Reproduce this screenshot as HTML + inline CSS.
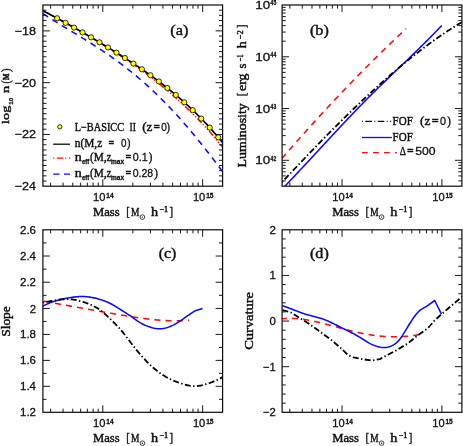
<!DOCTYPE html>
<html><head><meta charset="utf-8"><title>fig</title>
<style>html,body{margin:0;padding:0;background:#fff;}svg{display:block;will-change:transform;}text{white-space:pre;}</style>
</head><body>
<svg width="463" height="446" viewBox="0 0 463 446">
<rect width="463" height="446" fill="#fff"/>
<defs>
<clipPath id="cla"><rect x="42.9" y="5.0" width="179.7" height="181.2"/></clipPath>
<clipPath id="clb"><rect x="282.1" y="5.0" width="179.79999999999995" height="181.2"/></clipPath>
<clipPath id="clc"><rect x="42.9" y="229.8" width="179.7" height="182.5"/></clipPath>
<clipPath id="cld"><rect x="282.1" y="229.8" width="179.79999999999995" height="182.5"/></clipPath>
</defs>
<g clip-path="url(#cla)">
<path d="M42.90 13.59L43.80 14.18L44.71 14.77L45.61 15.36L46.51 15.94L47.42 16.52L48.32 17.10L49.22 17.68L50.12 18.25L51.03 18.82L51.93 19.39L52.83 19.95L53.74 20.52L54.64 21.08L55.54 21.64L56.45 22.19L57.35 22.75L58.25 23.30L59.15 23.86L60.06 24.41L60.96 24.96L61.86 25.51L62.77 26.06L63.67 26.61L64.57 27.15L65.48 27.70L66.38 28.25L67.28 28.79L68.18 29.34L69.09 29.88L69.99 30.43L70.89 30.97L71.80 31.52L72.70 32.06L73.60 32.61L74.51 33.15L75.41 33.70L76.31 34.25L77.21 34.80L78.12 35.34L79.02 35.89L79.92 36.44L80.83 37.00L81.73 37.55L82.63 38.10L83.54 38.66L84.44 39.21L85.34 39.77L86.24 40.33L87.15 40.89L88.05 41.46L88.95 42.02L89.86 42.59L90.76 43.16L91.66 43.73L92.57 44.30L93.47 44.88L94.37 45.46L95.27 46.04L96.18 46.62L97.08 47.20L97.98 47.79L98.89 48.38L99.79 48.98L100.69 49.57L101.60 50.17L102.50 50.77L103.40 51.38L104.31 51.99L105.21 52.60L106.11 53.21L107.01 53.83L107.92 54.45L108.82 55.08L109.72 55.71L110.63 56.34L111.53 56.97L112.43 57.61L113.34 58.26L114.24 58.90L115.14 59.55L116.04 60.21L116.95 60.87L117.85 61.53L118.75 62.19L119.66 62.86L120.56 63.54L121.46 64.22L122.37 64.90L123.27 65.59L124.17 66.28L125.07 66.98L125.98 67.68L126.88 68.38L127.78 69.09L128.69 69.80L129.59 70.52L130.49 71.25L131.40 71.97L132.30 72.71L133.20 73.44L134.10 74.18L135.01 74.93L135.91 75.68L136.81 76.44L137.72 77.20L138.62 77.97L139.52 78.74L140.43 79.51L141.33 80.30L142.23 81.08L143.13 81.87L144.04 82.67L144.94 83.47L145.84 84.28L146.75 85.09L147.65 85.91L148.55 86.73L149.46 87.55L150.36 88.39L151.26 89.23L152.16 90.07L153.07 90.92L153.97 91.77L154.87 92.63L155.78 93.49L156.68 94.36L157.58 95.24L158.49 96.12L159.39 97.00L160.29 97.89L161.19 98.79L162.10 99.69L163.00 100.60L163.90 101.51L164.81 102.43L165.71 103.35L166.61 104.28L167.52 105.21L168.42 106.15L169.32 107.10L170.23 108.04L171.13 109.00L172.03 109.96L172.93 110.93L173.84 111.90L174.74 112.87L175.64 113.85L176.55 114.84L177.45 115.83L178.35 116.83L179.26 117.83L180.16 118.84L181.06 119.86L181.96 120.87L182.87 121.90L183.77 122.93L184.67 123.96L185.58 125.00L186.48 126.04L187.38 127.09L188.29 128.15L189.19 129.21L190.09 130.27L190.99 131.34L191.90 132.42L192.80 133.49L193.70 134.58L194.61 135.67L195.51 136.76L196.41 137.86L197.32 138.96L198.22 140.07L199.12 141.19L200.02 142.30L200.93 143.43L201.83 144.55L202.73 145.68L203.64 146.82L204.54 147.96L205.44 149.11L206.35 150.25L207.25 151.41L208.15 152.57L209.05 153.73L209.96 154.90L210.86 156.07L211.76 157.24L212.67 158.42L213.57 159.60L214.47 160.79L215.38 161.98L216.28 163.17L217.18 164.37L218.08 165.57L218.99 166.78L219.89 167.99L220.79 169.20L221.70 170.42L222.60 171.64" fill="none" stroke="#0a0aff" stroke-width="1.55" stroke-dasharray="6.1 5.1"/>
<path d="M42.90 10.73L43.80 11.20L44.71 11.67L45.61 12.14L46.51 12.61L47.42 13.08L48.32 13.56L49.22 14.03L50.12 14.51L51.03 14.99L51.93 15.47L52.83 15.95L53.74 16.43L54.64 16.92L55.54 17.40L56.45 17.89L57.35 18.37L58.25 18.86L59.15 19.35L60.06 19.84L60.96 20.34L61.86 20.83L62.77 21.32L63.67 21.82L64.57 22.31L65.48 22.81L66.38 23.31L67.28 23.81L68.18 24.31L69.09 24.81L69.99 25.32L70.89 25.83L71.80 26.34L72.70 26.86L73.60 27.37L74.51 27.89L75.41 28.41L76.31 28.93L77.21 29.45L78.12 29.97L79.02 30.49L79.92 31.01L80.83 31.54L81.73 32.06L82.63 32.59L83.54 33.12L84.44 33.64L85.34 34.17L86.24 34.70L87.15 35.24L88.05 35.77L88.95 36.30L89.86 36.84L90.76 37.37L91.66 37.91L92.57 38.44L93.47 38.98L94.37 39.52L95.27 40.06L96.18 40.61L97.08 41.15L97.98 41.69L98.89 42.24L99.79 42.79L100.69 43.33L101.60 43.88L102.50 44.43L103.40 44.98L104.31 45.54L105.21 46.09L106.11 46.65L107.01 47.20L107.92 47.76L108.82 48.32L109.72 48.88L110.63 49.44L111.53 50.01L112.43 50.57L113.34 51.14L114.24 51.70L115.14 52.27L116.04 52.84L116.95 53.42L117.85 53.99L118.75 54.57L119.66 55.14L120.56 55.74L121.46 56.34L122.37 56.94L123.27 57.55L124.17 58.16L125.07 58.76L125.98 59.38L126.88 59.99L127.78 60.60L128.69 61.22L129.59 61.84L130.49 62.46L131.40 63.08L132.30 63.71L133.20 64.34L134.10 64.97L135.01 65.60L135.91 66.23L136.81 66.87L137.72 67.51L138.62 68.15L139.52 68.79L140.43 69.44L141.33 70.09L142.23 70.74L143.13 71.39L144.04 72.05L144.94 72.71L145.84 73.37L146.75 74.04L147.65 74.71L148.55 75.38L149.46 76.05L150.36 76.74L151.26 77.44L152.16 78.14L153.07 78.85L153.97 79.56L154.87 80.28L155.78 80.99L156.68 81.71L157.58 82.44L158.49 83.17L159.39 83.90L160.29 84.63L161.19 85.37L162.10 86.12L163.00 86.86L163.90 87.61L164.81 88.37L165.71 89.13L166.61 89.89L167.52 90.66L168.42 91.43L169.32 92.20L170.23 92.98L171.13 93.77L172.03 94.56L172.93 95.35L173.84 96.15L174.74 96.95L175.64 97.76L176.55 98.57L177.45 99.39L178.35 100.21L179.26 101.04L180.16 101.87L181.06 102.69L181.96 103.51L182.87 104.34L183.77 105.17L184.67 106.01L185.58 106.86L186.48 107.71L187.38 108.56L188.29 109.43L189.19 110.30L190.09 111.17L190.99 112.05L191.90 112.94L192.80 113.83L193.70 114.73L194.61 115.64L195.51 116.55L196.41 117.47L197.32 118.39L198.22 119.32L199.12 120.26L200.02 121.21L200.93 122.15L201.83 123.11L202.73 124.07L203.64 125.03L204.54 126.01L205.44 126.99L206.35 127.98L207.25 128.98L208.15 129.98L209.05 130.99L209.96 132.02L210.86 133.04L211.76 134.08L212.67 135.13L213.57 136.18L214.47 137.24L215.38 138.31L216.28 139.39L217.18 140.48L218.08 141.58L218.99 142.68L219.89 143.80L220.79 144.92L221.70 146.05L222.60 147.19" fill="none" stroke="#ff0a0a" stroke-width="1.55" stroke-dasharray="6 1.9 1.2 1.9 1.2 1.9 1.2 1.9"/>
<path d="M42.90 10.73L43.80 11.20L44.71 11.67L45.61 12.14L46.51 12.61L47.42 13.08L48.32 13.56L49.22 14.03L50.12 14.51L51.03 14.99L51.93 15.47L52.83 15.95L53.74 16.43L54.64 16.92L55.54 17.40L56.45 17.89L57.35 18.37L58.25 18.86L59.15 19.35L60.06 19.84L60.96 20.34L61.86 20.83L62.77 21.32L63.67 21.82L64.57 22.31L65.48 22.81L66.38 23.31L67.28 23.81L68.18 24.31L69.09 24.81L69.99 25.32L70.89 25.82L71.80 26.32L72.70 26.83L73.60 27.34L74.51 27.85L75.41 28.35L76.31 28.86L77.21 29.38L78.12 29.89L79.02 30.40L79.92 30.92L80.83 31.43L81.73 31.95L82.63 32.46L83.54 32.98L84.44 33.50L85.34 34.02L86.24 34.54L87.15 35.06L88.05 35.59L88.95 36.11L89.86 36.64L90.76 37.16L91.66 37.69L92.57 38.22L93.47 38.75L94.37 39.28L95.27 39.81L96.18 40.34L97.08 40.88L97.98 41.41L98.89 41.95L99.79 42.49L100.69 43.03L101.60 43.57L102.50 44.11L103.40 44.65L104.31 45.19L105.21 45.74L106.11 46.28L107.01 46.83L107.92 47.38L108.82 47.93L109.72 48.48L110.63 49.04L111.53 49.59L112.43 50.15L113.34 50.70L114.24 51.26L115.14 51.82L116.04 52.38L116.95 52.95L117.85 53.51L118.75 54.08L119.66 54.65L120.56 55.22L121.46 55.79L122.37 56.36L123.27 56.94L124.17 57.52L125.07 58.10L125.98 58.68L126.88 59.26L127.78 59.84L128.69 60.43L129.59 61.02L130.49 61.61L131.40 62.20L132.30 62.80L133.20 63.40L134.10 64.00L135.01 64.60L135.91 65.20L136.81 65.81L137.72 66.42L138.62 67.03L139.52 67.64L140.43 68.26L141.33 68.88L142.23 69.50L143.13 70.12L144.04 70.75L144.94 71.38L145.84 72.01L146.75 72.65L147.65 73.28L148.55 73.92L149.46 74.57L150.36 75.22L151.26 75.87L152.16 76.52L153.07 77.18L153.97 77.84L154.87 78.50L155.78 79.17L156.68 79.84L157.58 80.51L158.49 81.19L159.39 81.87L160.29 82.55L161.19 83.24L162.10 83.93L163.00 84.63L163.90 85.33L164.81 86.03L165.71 86.74L166.61 87.45L167.52 88.17L168.42 88.89L169.32 89.61L170.23 90.34L171.13 91.07L172.03 91.81L172.93 92.55L173.84 93.30L174.74 94.05L175.64 94.81L176.55 95.57L177.45 96.33L178.35 97.10L179.26 97.88L180.16 98.66L181.06 99.45L181.96 100.24L182.87 101.04L183.77 101.84L184.67 102.65L185.58 103.46L186.48 104.28L187.38 105.11L188.29 105.94L189.19 106.77L190.09 107.62L190.99 108.47L191.90 109.32L192.80 110.18L193.70 111.05L194.61 111.92L195.51 112.81L196.41 113.69L197.32 114.59L198.22 115.49L199.12 116.39L200.02 117.31L200.93 118.23L201.83 119.16L202.73 120.09L203.64 121.04L204.54 121.99L205.44 122.95L206.35 123.91L207.25 124.88L208.15 125.86L209.05 126.85L209.96 127.85L210.86 128.85L211.76 129.87L212.67 130.89L213.57 131.92L214.47 132.96L215.38 134.00L216.28 135.06L217.18 136.12L218.08 137.19L218.99 138.27L219.89 139.37L220.79 140.46L221.70 141.57L222.60 142.69" fill="none" stroke="#000" stroke-width="1.65"/>
<circle cx="57.10" cy="18.24" r="2.6" fill="#ffff00" stroke="#000" stroke-width="0.8"/>
<circle cx="65.58" cy="22.87" r="2.6" fill="#ffff00" stroke="#000" stroke-width="0.8"/>
<circle cx="74.06" cy="27.59" r="2.6" fill="#ffff00" stroke="#000" stroke-width="0.8"/>
<circle cx="82.54" cy="32.41" r="2.6" fill="#ffff00" stroke="#000" stroke-width="0.8"/>
<circle cx="91.02" cy="37.31" r="2.6" fill="#ffff00" stroke="#000" stroke-width="0.8"/>
<circle cx="99.50" cy="42.31" r="2.6" fill="#ffff00" stroke="#000" stroke-width="0.8"/>
<circle cx="107.97" cy="47.42" r="2.6" fill="#ffff00" stroke="#000" stroke-width="0.8"/>
<circle cx="116.45" cy="52.64" r="2.6" fill="#ffff00" stroke="#000" stroke-width="0.8"/>
<circle cx="124.93" cy="58.00" r="2.6" fill="#ffff00" stroke="#000" stroke-width="0.8"/>
<circle cx="133.41" cy="63.53" r="2.6" fill="#ffff00" stroke="#000" stroke-width="0.8"/>
<circle cx="141.89" cy="69.26" r="2.6" fill="#ffff00" stroke="#000" stroke-width="0.8"/>
<circle cx="150.37" cy="75.22" r="2.6" fill="#ffff00" stroke="#000" stroke-width="0.8"/>
<circle cx="158.85" cy="81.46" r="2.6" fill="#ffff00" stroke="#000" stroke-width="0.8"/>
<circle cx="167.33" cy="88.01" r="2.6" fill="#ffff00" stroke="#000" stroke-width="0.8"/>
<circle cx="175.81" cy="94.94" r="2.6" fill="#ffff00" stroke="#000" stroke-width="0.8"/>
<circle cx="184.28" cy="102.30" r="2.6" fill="#ffff00" stroke="#000" stroke-width="0.8"/>
<circle cx="192.76" cy="110.15" r="2.6" fill="#ffff00" stroke="#000" stroke-width="0.8"/>
<circle cx="201.24" cy="118.55" r="2.6" fill="#ffff00" stroke="#000" stroke-width="0.8"/>
<circle cx="209.72" cy="127.59" r="2.6" fill="#ffff00" stroke="#000" stroke-width="0.8"/>
<circle cx="218.20" cy="137.33" r="2.6" fill="#ffff00" stroke="#000" stroke-width="0.8"/>
</g>
<rect x="42.90" y="5.00" width="179.70" height="181.20" fill="none" stroke="#0a0a0a" stroke-width="1.2"/>
<path d="M50.60 5.00v3.6M50.60 186.20v-3.6M63.07 5.00v3.6M63.07 186.20v-3.6M72.75 5.00v3.6M72.75 186.20v-3.6M80.65 5.00v3.6M80.65 186.20v-3.6M87.34 5.00v3.6M87.34 186.20v-3.6M93.13 5.00v3.6M93.13 186.20v-3.6M98.23 5.00v3.6M98.23 186.20v-3.6M102.80 5.00v7.0M102.80 186.20v-7.0M132.85 5.00v3.6M132.85 186.20v-3.6M150.43 5.00v3.6M150.43 186.20v-3.6M162.91 5.00v3.6M162.91 186.20v-3.6M172.58 5.00v3.6M172.58 186.20v-3.6M180.49 5.00v3.6M180.49 186.20v-3.6M187.17 5.00v3.6M187.17 186.20v-3.6M192.96 5.00v3.6M192.96 186.20v-3.6M198.07 5.00v3.6M198.07 186.20v-3.6M202.63 5.00v7.0M202.63 186.20v-7.0" stroke="#1a1a1a" stroke-width="1.0" fill="none"/>
<path d="M42.90 30.89h7.0M222.60 30.89h-7.0M42.90 82.66h7.0M222.60 82.66h-7.0M42.90 134.43h7.0M222.60 134.43h-7.0M42.90 10.18h3.6M222.60 10.18h-3.6M42.90 15.35h3.6M222.60 15.35h-3.6M42.90 20.53h3.6M222.60 20.53h-3.6M42.90 25.71h3.6M222.60 25.71h-3.6M42.90 36.06h3.6M222.60 36.06h-3.6M42.90 41.24h3.6M222.60 41.24h-3.6M42.90 46.42h3.6M222.60 46.42h-3.6M42.90 51.59h3.6M222.60 51.59h-3.6M42.90 56.77h3.6M222.60 56.77h-3.6M42.90 61.95h3.6M222.60 61.95h-3.6M42.90 67.13h3.6M222.60 67.13h-3.6M42.90 72.30h3.6M222.60 72.30h-3.6M42.90 77.48h3.6M222.60 77.48h-3.6M42.90 87.83h3.6M222.60 87.83h-3.6M42.90 93.01h3.6M222.60 93.01h-3.6M42.90 98.19h3.6M222.60 98.19h-3.6M42.90 103.37h3.6M222.60 103.37h-3.6M42.90 108.54h3.6M222.60 108.54h-3.6M42.90 113.72h3.6M222.60 113.72h-3.6M42.90 118.90h3.6M222.60 118.90h-3.6M42.90 124.07h3.6M222.60 124.07h-3.6M42.90 129.25h3.6M222.60 129.25h-3.6M42.90 139.61h3.6M222.60 139.61h-3.6M42.90 144.78h3.6M222.60 144.78h-3.6M42.90 149.96h3.6M222.60 149.96h-3.6M42.90 155.14h3.6M222.60 155.14h-3.6M42.90 160.31h3.6M222.60 160.31h-3.6M42.90 165.49h3.6M222.60 165.49h-3.6M42.90 170.67h3.6M222.60 170.67h-3.6M42.90 175.85h3.6M222.60 175.85h-3.6M42.90 181.02h3.6M222.60 181.02h-3.6" stroke="#1a1a1a" stroke-width="1.0" fill="none"/>
<text x="36.10" y="34.94" font-family='"Liberation Sans", sans-serif' font-size="11.3" text-anchor="end" fill="#111" stroke="#111" stroke-width="0.3" textLength="21.40" lengthAdjust="spacingAndGlyphs">−18</text>
<text x="36.10" y="86.71" font-family='"Liberation Sans", sans-serif' font-size="11.3" text-anchor="end" fill="#111" stroke="#111" stroke-width="0.3" textLength="21.40" lengthAdjust="spacingAndGlyphs">−20</text>
<text x="36.10" y="138.48" font-family='"Liberation Sans", sans-serif' font-size="11.3" text-anchor="end" fill="#111" stroke="#111" stroke-width="0.3" textLength="21.40" lengthAdjust="spacingAndGlyphs">−22</text>
<text x="36.10" y="190.25" font-family='"Liberation Sans", sans-serif' font-size="11.3" text-anchor="end" fill="#111" stroke="#111" stroke-width="0.3" textLength="21.40" lengthAdjust="spacingAndGlyphs">−24</text>
<text x="93.10" y="201.20" font-family='"Liberation Sans", sans-serif' font-size="11.3" text-anchor="start" fill="#111" stroke="#111" stroke-width="0.3" textLength="12.40" lengthAdjust="spacingAndGlyphs">10</text>
<text x="106.30" y="197.70" font-family='"Liberation Sans", sans-serif' font-size="7.4" text-anchor="start" fill="#111" stroke="#111" stroke-width="0.3" textLength="7.30" lengthAdjust="spacingAndGlyphs" font-weight="bold">14</text>
<text x="192.93" y="201.20" font-family='"Liberation Sans", sans-serif' font-size="11.3" text-anchor="start" fill="#111" stroke="#111" stroke-width="0.3" textLength="12.40" lengthAdjust="spacingAndGlyphs">10</text>
<text x="206.13" y="197.70" font-family='"Liberation Sans", sans-serif' font-size="7.4" text-anchor="start" fill="#111" stroke="#111" stroke-width="0.3" textLength="7.30" lengthAdjust="spacingAndGlyphs" font-weight="bold">15</text>
<text x="93.00" y="215.70" font-family='"Liberation Serif", serif' font-size="12" text-anchor="start" fill="#111" stroke="#111" stroke-width="0.42" textLength="26.70" lengthAdjust="spacingAndGlyphs">Mass</text>
<text x="126.30" y="216.00" font-family='"Liberation Serif", serif' font-size="13" text-anchor="start" fill="#111" stroke="#111" stroke-width="0.42" textLength="3.60" lengthAdjust="spacingAndGlyphs">[</text>
<text x="131.00" y="215.70" font-family='"Liberation Serif", serif' font-size="12" text-anchor="start" fill="#111" stroke="#111" stroke-width="0.42" textLength="8.40" lengthAdjust="spacingAndGlyphs">M</text>
<circle cx="142.40" cy="217.10" r="2.3" fill="none" stroke="#111" stroke-width="0.8"/><circle cx="142.40" cy="217.10" r="0.7" fill="#111"/>
<text x="151.10" y="215.70" font-family='"Liberation Serif", serif' font-size="12" text-anchor="start" fill="#111" stroke="#111" stroke-width="0.42" textLength="7.10" lengthAdjust="spacingAndGlyphs">h</text>
<text x="159.50" y="212.10" font-family='"Liberation Serif", serif' font-size="7.6" text-anchor="start" fill="#111" stroke="#111" stroke-width="0.42" textLength="8.70" lengthAdjust="spacingAndGlyphs">−1</text>
<text x="169.60" y="216.00" font-family='"Liberation Serif", serif' font-size="13" text-anchor="start" fill="#111" stroke="#111" stroke-width="0.42" textLength="3.60" lengthAdjust="spacingAndGlyphs">]</text>
<text x="170.30" y="34.70" font-family='"Liberation Serif", serif' font-size="15" text-anchor="start" fill="#111" stroke="#111" stroke-width="0.42" textLength="18.20" lengthAdjust="spacingAndGlyphs">(a)</text>
<text transform="translate(8.70,123.90) rotate(-90)" font-family='"Liberation Serif", serif' font-size="11" fill="#111" stroke="#111" stroke-width="0.42" textLength="18.20" lengthAdjust="spacingAndGlyphs">log</text>
<text transform="translate(12.70,104.70) rotate(-90)" font-family='"Liberation Sans", sans-serif' font-size="5.8" fill="#111" stroke="#111" stroke-width="0.3" textLength="6.90" lengthAdjust="spacingAndGlyphs" font-weight="bold">10</text>
<text transform="translate(8.80,92.90) rotate(-90)" font-family='"Liberation Serif", serif' font-size="11" fill="#111" stroke="#111" stroke-width="0.42" textLength="7.30" lengthAdjust="spacingAndGlyphs">n</text>
<text transform="translate(9.50,83.60) rotate(-90)" font-family='"Liberation Serif", serif' font-size="12.4" fill="#111" stroke="#111" stroke-width="0.42" textLength="3.10" lengthAdjust="spacingAndGlyphs">(</text>
<text transform="translate(8.60,79.90) rotate(-90)" font-family='"Liberation Serif", serif' font-size="8.4" fill="#111" stroke="#111" stroke-width="0.42" textLength="6.60" lengthAdjust="spacingAndGlyphs" font-weight="bold">M</text>
<text transform="translate(9.50,72.00) rotate(-90)" font-family='"Liberation Serif", serif' font-size="12.4" fill="#111" stroke="#111" stroke-width="0.42" textLength="3.60" lengthAdjust="spacingAndGlyphs">)</text>
<circle cx="59.8" cy="126.8" r="2.15" fill="#ffff00" stroke="#000" stroke-width="0.8"/>
<path d="M53.20 144.20L70.00 144.20" fill="none" stroke="#000" stroke-width="1.25"/>
<path d="M53.2 158.2h1.1M56.8 158.2h6.7M65.2 158.2h1.1M68.8 158.2h1.2" stroke="#ff0a0a" stroke-width="1.3" fill="none"/>
<path d="M53.2 174.1h6.3M64 174.1h6" stroke="#0a0aff" stroke-width="1.3" fill="none"/>
<text x="74.70" y="130.70" font-family='"Liberation Serif", serif' font-size="12" text-anchor="start" fill="#111" stroke="#111" stroke-width="0.42" textLength="49.40" lengthAdjust="spacingAndGlyphs">L−BASICC</text>
<text x="129.60" y="130.70" font-family='"Liberation Serif", serif' font-size="12" text-anchor="start" fill="#111" stroke="#111" stroke-width="0.42" textLength="6.40" lengthAdjust="spacingAndGlyphs">II</text>
<text x="142.20" y="130.70" font-family='"Liberation Serif", serif' font-size="12" text-anchor="start" fill="#111" stroke="#111" stroke-width="0.42" textLength="10.30" lengthAdjust="spacingAndGlyphs">(z</text>
<text x="153.60" y="130.70" font-family='"Liberation Serif", serif' font-size="12" text-anchor="start" fill="#111" stroke="#111" stroke-width="0.42" textLength="6.50" lengthAdjust="spacingAndGlyphs" font-weight="bold">=</text>
<text x="161.20" y="130.70" font-family='"Liberation Sans", sans-serif' font-size="11.3" text-anchor="start" fill="#111" stroke="#111" stroke-width="0.3" textLength="5.60" lengthAdjust="spacingAndGlyphs">0</text>
<text x="166.60" y="130.70" font-family='"Liberation Serif", serif' font-size="12" text-anchor="start" fill="#111" stroke="#111" stroke-width="0.42" textLength="3.40" lengthAdjust="spacingAndGlyphs">)</text>
<text x="74.70" y="146.90" font-family='"Liberation Serif", serif' font-size="12" text-anchor="start" fill="#111" stroke="#111" stroke-width="0.42" textLength="27.50" lengthAdjust="spacingAndGlyphs">n(M,z</text>
<text x="108.40" y="146.90" font-family='"Liberation Serif", serif' font-size="12" text-anchor="start" fill="#111" stroke="#111" stroke-width="0.42" textLength="5.80" lengthAdjust="spacingAndGlyphs" font-weight="bold">=</text>
<text x="121.00" y="146.90" font-family='"Liberation Sans", sans-serif' font-size="11.3" text-anchor="start" fill="#111" stroke="#111" stroke-width="0.3" textLength="5.50" lengthAdjust="spacingAndGlyphs">0</text>
<text x="127.00" y="146.90" font-family='"Liberation Serif", serif' font-size="12" text-anchor="start" fill="#111" stroke="#111" stroke-width="0.42" textLength="3.40" lengthAdjust="spacingAndGlyphs">)</text>
<text x="74.70" y="161.30" font-family='"Liberation Serif", serif' font-size="12" text-anchor="start" fill="#111" stroke="#111" stroke-width="0.42" textLength="7.00" lengthAdjust="spacingAndGlyphs">n</text>
<text x="82.00" y="163.90" font-family='"Liberation Sans", sans-serif' font-size="7" text-anchor="start" fill="#111" stroke="#111" stroke-width="0.3" textLength="7.30" lengthAdjust="spacingAndGlyphs" font-weight="bold">eff</text>
<text x="90.00" y="161.30" font-family='"Liberation Serif", serif' font-size="12" text-anchor="start" fill="#111" stroke="#111" stroke-width="0.42" textLength="21.60" lengthAdjust="spacingAndGlyphs">(M,z</text>
<text x="111.00" y="163.90" font-family='"Liberation Sans", sans-serif' font-size="7.4" text-anchor="start" fill="#111" stroke="#111" stroke-width="0.3" textLength="13.00" lengthAdjust="spacingAndGlyphs" font-weight="bold">max</text>
<text x="125.40" y="161.30" font-family='"Liberation Serif", serif' font-size="12" text-anchor="start" fill="#111" stroke="#111" stroke-width="0.42" textLength="5.80" lengthAdjust="spacingAndGlyphs" font-weight="bold">=</text>
<text x="132.80" y="161.30" font-family='"Liberation Sans", sans-serif' font-size="11.3" text-anchor="start" fill="#111" stroke="#111" stroke-width="0.3" textLength="14.90" lengthAdjust="spacingAndGlyphs">0.1</text>
<text x="148.80" y="161.30" font-family='"Liberation Serif", serif' font-size="12" text-anchor="start" fill="#111" stroke="#111" stroke-width="0.42" textLength="3.60" lengthAdjust="spacingAndGlyphs">)</text>
<text x="74.70" y="177.00" font-family='"Liberation Serif", serif' font-size="12" text-anchor="start" fill="#111" stroke="#111" stroke-width="0.42" textLength="7.00" lengthAdjust="spacingAndGlyphs">n</text>
<text x="82.00" y="179.60" font-family='"Liberation Sans", sans-serif' font-size="7" text-anchor="start" fill="#111" stroke="#111" stroke-width="0.3" textLength="7.30" lengthAdjust="spacingAndGlyphs" font-weight="bold">eff</text>
<text x="90.00" y="177.00" font-family='"Liberation Serif", serif' font-size="12" text-anchor="start" fill="#111" stroke="#111" stroke-width="0.42" textLength="21.60" lengthAdjust="spacingAndGlyphs">(M,z</text>
<text x="111.00" y="179.60" font-family='"Liberation Sans", sans-serif' font-size="7.4" text-anchor="start" fill="#111" stroke="#111" stroke-width="0.3" textLength="13.00" lengthAdjust="spacingAndGlyphs" font-weight="bold">max</text>
<text x="125.40" y="177.00" font-family='"Liberation Serif", serif' font-size="12" text-anchor="start" fill="#111" stroke="#111" stroke-width="0.42" textLength="5.80" lengthAdjust="spacingAndGlyphs" font-weight="bold">=</text>
<text x="132.80" y="177.00" font-family='"Liberation Sans", sans-serif' font-size="11.3" text-anchor="start" fill="#111" stroke="#111" stroke-width="0.3" textLength="20.40" lengthAdjust="spacingAndGlyphs">0.28</text>
<text x="154.30" y="177.00" font-family='"Liberation Serif", serif' font-size="12" text-anchor="start" fill="#111" stroke="#111" stroke-width="0.42" textLength="3.60" lengthAdjust="spacingAndGlyphs">)</text>
<g clip-path="url(#clb)">
<path d="M281.80 158.69L282.42 157.97L283.05 157.25L283.67 156.52L284.30 155.80L284.92 155.08L285.55 154.36L286.17 153.64L286.80 152.93L287.42 152.21L288.05 151.49L288.67 150.77L289.30 150.06L289.92 149.34L290.54 148.63L291.17 147.92L291.79 147.20L292.42 146.49L293.04 145.78L293.67 145.07L294.29 144.36L294.92 143.65L295.54 142.94L296.17 142.23L296.79 141.53L297.42 140.82L298.04 140.11L298.66 139.41L299.29 138.71L299.91 138.00L300.54 137.30L301.16 136.60L301.79 135.90L302.41 135.19L303.04 134.49L303.66 133.80L304.29 133.10L304.91 132.40L305.54 131.70L306.16 131.01L306.78 130.31L307.41 129.61L308.03 128.92L308.66 128.23L309.28 127.53L309.91 126.84L310.53 126.15L311.16 125.46L311.78 124.77L312.41 124.08L313.03 123.39L313.66 122.70L314.28 122.01L314.91 121.33L315.53 120.64L316.15 119.96L316.78 119.27L317.40 118.59L318.03 117.91L318.65 117.22L319.28 116.54L319.90 115.86L320.53 115.18L321.15 114.50L321.78 113.82L322.40 113.14L323.03 112.47L323.65 111.79L324.27 111.11L324.90 110.44L325.52 109.76L326.15 109.09L326.77 108.42L327.40 107.74L328.02 107.07L328.65 106.40L329.27 105.73L329.90 105.06L330.52 104.39L331.15 103.72L331.77 103.06L332.39 102.39L333.02 101.72L333.64 101.06L334.27 100.39L334.89 99.73L335.52 99.07L336.14 98.40L336.77 97.74L337.39 97.08L338.02 96.42L338.64 95.76L339.27 95.10L339.89 94.44L340.51 93.79L341.14 93.13L341.76 92.47L342.39 91.82L343.01 91.16L343.64 90.51L344.26 89.86L344.89 89.20L345.51 88.55L346.14 87.90L346.76 87.25L347.39 86.60L348.01 85.95L348.63 85.30L349.26 84.65L349.88 84.01L350.51 83.36L351.13 82.71L351.76 82.07L352.38 81.43L353.01 80.78L353.63 80.14L354.26 79.50L354.88 78.86L355.51 78.22L356.13 77.58L356.75 76.94L357.38 76.30L358.00 75.66L358.63 75.02L359.25 74.39L359.88 73.75L360.50 73.12L361.13 72.48L361.75 71.85L362.38 71.21L363.00 70.58L363.63 69.95L364.25 69.32L364.87 68.69L365.50 68.06L366.12 67.43L366.75 66.80L367.37 66.18L368.00 65.55L368.62 64.92L369.25 64.30L369.87 63.68L370.50 63.05L371.12 62.43L371.75 61.81L372.37 61.18L372.99 60.56L373.62 59.94L374.24 59.32L374.87 58.71L375.49 58.09L376.12 57.47L376.74 56.85L377.37 56.24L377.99 55.62L378.62 55.01L379.24 54.39L379.87 53.78L380.49 53.17L381.12 52.56L381.74 51.95L382.36 51.34L382.99 50.73L383.61 50.12L384.24 49.51L384.86 48.90L385.49 48.30L386.11 47.69L386.74 47.08L387.36 46.48L387.99 45.88L388.61 45.27L389.24 44.67L389.86 44.07L390.48 43.47L391.11 42.87L391.73 42.27L392.36 41.67L392.98 41.07L393.61 40.47L394.23 39.88L394.86 39.28L395.48 38.68L396.11 38.09L396.73 37.50L397.36 36.90L397.98 36.31L398.60 35.72L399.23 35.13L399.85 34.54L400.48 33.95L401.10 33.36L401.73 32.77L402.35 32.18L402.98 31.59L403.60 31.01L404.23 30.42L404.85 29.84L405.48 29.25L406.10 28.67" fill="none" stroke="#ff0a0a" stroke-width="1.55" stroke-dasharray="6.1 5.1"/>
<path d="M285.00 186.10L286.32 184.72L287.64 183.33L288.95 181.94L290.27 180.55L291.59 179.16L292.91 177.76L294.22 176.36L295.54 174.96L296.86 173.56L298.18 172.15L299.49 170.75L300.81 169.34L302.13 167.93L303.45 166.52L304.76 165.11L306.08 163.69L307.40 162.28L308.72 160.86L310.04 159.44L311.35 158.02L312.67 156.60L313.99 155.18L315.31 153.76L316.62 152.34L317.94 150.91L319.26 149.49L320.58 148.07L321.89 146.64L323.21 145.22L324.53 143.80L325.85 142.37L327.16 140.95L328.48 139.53L329.80 138.11L331.12 136.69L332.44 135.27L333.75 133.86L335.07 132.44L336.39 131.03L337.71 129.62L339.02 128.21L340.34 126.80L341.66 125.39L342.98 123.99L344.29 122.59L345.61 121.19L346.93 119.80L348.25 118.40L349.56 117.01L350.88 115.63L352.20 114.25L353.52 112.87L354.84 111.50L356.15 110.13L357.47 108.76L358.79 107.40L360.11 106.04L361.42 104.69L362.74 103.34L364.06 102.00L365.38 100.66L366.69 99.33L368.01 98.00L369.33 96.67L370.65 95.35L371.96 94.03L373.28 92.72L374.60 91.42L375.92 90.12L377.24 88.82L378.55 87.53L379.87 86.24L381.19 84.96L382.51 83.68L383.82 82.40L385.14 81.13L386.46 79.86L387.78 78.59L389.09 77.32L390.41 76.06L391.73 74.80L393.05 73.54L394.36 72.28L395.68 71.03L397.00 69.77L398.32 68.52L399.64 67.26L400.95 66.01L402.27 64.75L403.59 63.49L404.91 62.23L406.22 60.97L407.54 59.71L408.86 58.45L410.18 57.18L411.49 55.91L412.81 54.64L414.13 53.36L415.45 52.08L416.76 50.79L418.08 49.50L419.40 48.21L420.72 46.91L422.04 45.61L423.35 44.30L424.67 42.99L425.99 41.67L427.31 40.35L428.62 39.03L429.94 37.69L431.26 36.36L432.58 35.02L433.89 33.67L435.21 32.32L436.53 30.97L437.85 29.61L439.16 28.26L440.48 26.90L441.80 25.54" fill="none" stroke="#0a0aff" stroke-width="1.55"/>
<path d="M281.80 182.39L282.71 181.43L283.61 180.47L284.52 179.51L285.42 178.54L286.33 177.58L287.23 176.62L288.14 175.66L289.04 174.70L289.95 173.74L290.85 172.79L291.76 171.83L292.66 170.87L293.57 169.92L294.47 168.96L295.38 168.00L296.28 167.05L297.19 166.10L298.09 165.14L299.00 164.19L299.90 163.24L300.81 162.29L301.71 161.34L302.62 160.39L303.52 159.45L304.43 158.50L305.33 157.55L306.24 156.61L307.14 155.66L308.05 154.72L308.95 153.78L309.86 152.84L310.76 151.90L311.67 150.96L312.57 150.02L313.48 149.08L314.38 148.15L315.29 147.21L316.19 146.28L317.10 145.35L318.00 144.41L318.91 143.48L319.81 142.55L320.72 141.63L321.62 140.70L322.53 139.77L323.43 138.85L324.34 137.93L325.24 137.00L326.15 136.08L327.05 135.16L327.96 134.24L328.86 133.33L329.77 132.41L330.67 131.50L331.58 130.59L332.48 129.67L333.39 128.76L334.29 127.86L335.20 126.95L336.10 126.04L337.01 125.14L337.91 124.24L338.82 123.34L339.72 122.44L340.63 121.54L341.53 120.64L342.44 119.75L343.34 118.85L344.25 117.96L345.15 117.07L346.06 116.18L346.96 115.30L347.87 114.41L348.77 113.53L349.68 112.65L350.58 111.77L351.49 110.89L352.39 110.01L353.30 109.14L354.20 108.27L355.11 107.40L356.01 106.53L356.92 105.66L357.82 104.80L358.73 103.93L359.63 103.07L360.54 102.21L361.44 101.35L362.35 100.50L363.25 99.64L364.16 98.79L365.06 97.94L365.97 97.09L366.87 96.25L367.78 95.41L368.68 94.56L369.59 93.72L370.49 92.89L371.40 92.05L372.30 91.22L373.21 90.39L374.11 89.56L375.02 88.73L375.92 87.91L376.83 87.09L377.73 86.27L378.64 85.45L379.54 84.63L380.45 83.82L381.35 83.01L382.26 82.20L383.16 81.40L384.07 80.59L384.97 79.79L385.88 78.99L386.78 78.19L387.69 77.40L388.59 76.61L389.50 75.82L390.40 75.03L391.31 74.25L392.21 73.47L393.12 72.69L394.02 71.91L394.93 71.14L395.83 70.37L396.74 69.60L397.64 68.83L398.55 68.07L399.45 67.31L400.36 66.55L401.26 65.79L402.17 65.04L403.07 64.29L403.98 63.54L404.88 62.80L405.79 62.05L406.69 61.31L407.60 60.58L408.50 59.84L409.41 59.11L410.31 58.38L411.22 57.66L412.12 56.94L413.03 56.22L413.93 55.50L414.84 54.79L415.74 54.08L416.65 53.37L417.55 52.67L418.46 51.96L419.36 51.26L420.27 50.57L421.17 49.88L422.08 49.19L422.98 48.50L423.89 47.82L424.79 47.14L425.70 46.46L426.60 45.79L427.51 45.12L428.41 44.45L429.32 43.78L430.22 43.12L431.13 42.46L432.03 41.81L432.94 41.16L433.84 40.51L434.75 39.87L435.65 39.22L436.56 38.59L437.46 37.95L438.37 37.32L439.27 36.69L440.18 36.07L441.08 35.45L441.99 34.83L442.89 34.21L443.80 33.60L444.70 33.00L445.61 32.39L446.51 31.79L447.42 31.19L448.32 30.60L449.23 30.01L450.13 29.43L451.04 28.84L451.94 28.26L452.85 27.69L453.75 27.12L454.66 26.55L455.56 25.99L456.47 25.42L457.37 24.87L458.28 24.31L459.18 23.77L460.09 23.22L460.99 22.68L461.90 22.14" fill="none" stroke="#000" stroke-width="1.8" stroke-dasharray="6 2.4 1.4 2.4" stroke-dashoffset="-4.0"/>
</g>
<rect x="282.10" y="5.00" width="179.80" height="181.20" fill="none" stroke="#0a0a0a" stroke-width="1.2"/>
<path d="M289.80 5.00v3.6M289.80 186.20v-3.6M302.28 5.00v3.6M302.28 186.20v-3.6M311.96 5.00v3.6M311.96 186.20v-3.6M319.87 5.00v3.6M319.87 186.20v-3.6M326.56 5.00v3.6M326.56 186.20v-3.6M332.35 5.00v3.6M332.35 186.20v-3.6M337.46 5.00v3.6M337.46 186.20v-3.6M342.03 5.00v7.0M342.03 186.20v-7.0M372.10 5.00v3.6M372.10 186.20v-3.6M389.69 5.00v3.6M389.69 186.20v-3.6M402.17 5.00v3.6M402.17 186.20v-3.6M411.85 5.00v3.6M411.85 186.20v-3.6M419.76 5.00v3.6M419.76 186.20v-3.6M426.45 5.00v3.6M426.45 186.20v-3.6M432.24 5.00v3.6M432.24 186.20v-3.6M437.35 5.00v3.6M437.35 186.20v-3.6M441.92 5.00v7.0M441.92 186.20v-7.0" stroke="#1a1a1a" stroke-width="1.0" fill="none"/>
<path d="M282.10 56.77h7.0M461.90 56.77h-7.0M282.10 108.54h7.0M461.90 108.54h-7.0M282.10 160.31h7.0M461.90 160.31h-7.0M282.10 180.92h3.6M461.90 180.92h-3.6M282.10 175.90h3.6M461.90 175.90h-3.6M282.10 171.80h3.6M461.90 171.80h-3.6M282.10 168.33h3.6M461.90 168.33h-3.6M282.10 165.33h3.6M461.90 165.33h-3.6M282.10 162.68h3.6M461.90 162.68h-3.6M282.10 144.73h3.6M461.90 144.73h-3.6M282.10 135.61h3.6M461.90 135.61h-3.6M282.10 129.14h3.6M461.90 129.14h-3.6M282.10 124.13h3.6M461.90 124.13h-3.6M282.10 120.03h3.6M461.90 120.03h-3.6M282.10 116.56h3.6M461.90 116.56h-3.6M282.10 113.56h3.6M461.90 113.56h-3.6M282.10 110.91h3.6M461.90 110.91h-3.6M282.10 92.96h3.6M461.90 92.96h-3.6M282.10 83.84h3.6M461.90 83.84h-3.6M282.10 77.37h3.6M461.90 77.37h-3.6M282.10 72.36h3.6M461.90 72.36h-3.6M282.10 68.26h3.6M461.90 68.26h-3.6M282.10 64.79h3.6M461.90 64.79h-3.6M282.10 61.79h3.6M461.90 61.79h-3.6M282.10 59.14h3.6M461.90 59.14h-3.6M282.10 41.19h3.6M461.90 41.19h-3.6M282.10 32.07h3.6M461.90 32.07h-3.6M282.10 25.60h3.6M461.90 25.60h-3.6M282.10 20.58h3.6M461.90 20.58h-3.6M282.10 16.49h3.6M461.90 16.49h-3.6M282.10 13.02h3.6M461.90 13.02h-3.6M282.10 10.02h3.6M461.90 10.02h-3.6M282.10 7.37h3.6M461.90 7.37h-3.6" stroke="#1a1a1a" stroke-width="1.0" fill="none"/>
<text x="255.30" y="9.05" font-family='"Liberation Sans", sans-serif' font-size="11.3" text-anchor="start" fill="#111" stroke="#111" stroke-width="0.3" textLength="15.00" lengthAdjust="spacingAndGlyphs">10</text>
<text x="270.60" y="5.45" font-family='"Liberation Sans", sans-serif' font-size="7.4" text-anchor="start" fill="#111" stroke="#111" stroke-width="0.3" textLength="5.60" lengthAdjust="spacingAndGlyphs" font-weight="bold">45</text>
<text x="255.30" y="60.82" font-family='"Liberation Sans", sans-serif' font-size="11.3" text-anchor="start" fill="#111" stroke="#111" stroke-width="0.3" textLength="15.00" lengthAdjust="spacingAndGlyphs">10</text>
<text x="270.60" y="57.22" font-family='"Liberation Sans", sans-serif' font-size="7.4" text-anchor="start" fill="#111" stroke="#111" stroke-width="0.3" textLength="5.60" lengthAdjust="spacingAndGlyphs" font-weight="bold">44</text>
<text x="255.30" y="112.59" font-family='"Liberation Sans", sans-serif' font-size="11.3" text-anchor="start" fill="#111" stroke="#111" stroke-width="0.3" textLength="15.00" lengthAdjust="spacingAndGlyphs">10</text>
<text x="270.60" y="108.99" font-family='"Liberation Sans", sans-serif' font-size="7.4" text-anchor="start" fill="#111" stroke="#111" stroke-width="0.3" textLength="5.60" lengthAdjust="spacingAndGlyphs" font-weight="bold">43</text>
<text x="255.30" y="164.36" font-family='"Liberation Sans", sans-serif' font-size="11.3" text-anchor="start" fill="#111" stroke="#111" stroke-width="0.3" textLength="15.00" lengthAdjust="spacingAndGlyphs">10</text>
<text x="270.60" y="160.76" font-family='"Liberation Sans", sans-serif' font-size="7.4" text-anchor="start" fill="#111" stroke="#111" stroke-width="0.3" textLength="5.60" lengthAdjust="spacingAndGlyphs" font-weight="bold">42</text>
<text x="332.33" y="201.20" font-family='"Liberation Sans", sans-serif' font-size="11.3" text-anchor="start" fill="#111" stroke="#111" stroke-width="0.3" textLength="12.40" lengthAdjust="spacingAndGlyphs">10</text>
<text x="345.53" y="197.70" font-family='"Liberation Sans", sans-serif' font-size="7.4" text-anchor="start" fill="#111" stroke="#111" stroke-width="0.3" textLength="7.30" lengthAdjust="spacingAndGlyphs" font-weight="bold">14</text>
<text x="432.22" y="201.20" font-family='"Liberation Sans", sans-serif' font-size="11.3" text-anchor="start" fill="#111" stroke="#111" stroke-width="0.3" textLength="12.40" lengthAdjust="spacingAndGlyphs">10</text>
<text x="445.42" y="197.70" font-family='"Liberation Sans", sans-serif' font-size="7.4" text-anchor="start" fill="#111" stroke="#111" stroke-width="0.3" textLength="7.30" lengthAdjust="spacingAndGlyphs" font-weight="bold">15</text>
<text x="332.20" y="215.70" font-family='"Liberation Serif", serif' font-size="12" text-anchor="start" fill="#111" stroke="#111" stroke-width="0.42" textLength="26.70" lengthAdjust="spacingAndGlyphs">Mass</text>
<text x="365.50" y="216.00" font-family='"Liberation Serif", serif' font-size="13" text-anchor="start" fill="#111" stroke="#111" stroke-width="0.42" textLength="3.60" lengthAdjust="spacingAndGlyphs">[</text>
<text x="370.20" y="215.70" font-family='"Liberation Serif", serif' font-size="12" text-anchor="start" fill="#111" stroke="#111" stroke-width="0.42" textLength="8.40" lengthAdjust="spacingAndGlyphs">M</text>
<circle cx="381.60" cy="217.10" r="2.3" fill="none" stroke="#111" stroke-width="0.8"/><circle cx="381.60" cy="217.10" r="0.7" fill="#111"/>
<text x="390.30" y="215.70" font-family='"Liberation Serif", serif' font-size="12" text-anchor="start" fill="#111" stroke="#111" stroke-width="0.42" textLength="7.10" lengthAdjust="spacingAndGlyphs">h</text>
<text x="398.70" y="212.10" font-family='"Liberation Serif", serif' font-size="7.6" text-anchor="start" fill="#111" stroke="#111" stroke-width="0.42" textLength="8.70" lengthAdjust="spacingAndGlyphs">−1</text>
<text x="408.80" y="216.00" font-family='"Liberation Serif", serif' font-size="13" text-anchor="start" fill="#111" stroke="#111" stroke-width="0.42" textLength="3.60" lengthAdjust="spacingAndGlyphs">]</text>
<text x="310.00" y="34.70" font-family='"Liberation Serif", serif' font-size="15" text-anchor="start" fill="#111" stroke="#111" stroke-width="0.42" textLength="18.80" lengthAdjust="spacingAndGlyphs">(b)</text>
<text transform="translate(246.10,167.40) rotate(-90)" font-family='"Liberation Serif", serif' font-size="12" fill="#111" stroke="#111" stroke-width="0.42" textLength="64.20" lengthAdjust="spacingAndGlyphs">Luminosity</text>
<text transform="translate(246.40,96.00) rotate(-90)" font-family='"Liberation Serif", serif' font-size="13" fill="#111" stroke="#111" stroke-width="0.42" textLength="3.40" lengthAdjust="spacingAndGlyphs">[</text>
<text transform="translate(246.10,91.00) rotate(-90)" font-family='"Liberation Serif", serif' font-size="12" fill="#111" stroke="#111" stroke-width="0.42" textLength="17.40" lengthAdjust="spacingAndGlyphs">erg</text>
<text transform="translate(246.10,68.50) rotate(-90)" font-family='"Liberation Serif", serif' font-size="12" fill="#111" stroke="#111" stroke-width="0.42" textLength="5.00" lengthAdjust="spacingAndGlyphs">s</text>
<text transform="translate(242.50,61.50) rotate(-90)" font-family='"Liberation Serif", serif' font-size="8" fill="#111" stroke="#111" stroke-width="0.42" textLength="7.30" lengthAdjust="spacingAndGlyphs">−1</text>
<text transform="translate(246.10,48.30) rotate(-90)" font-family='"Liberation Serif", serif' font-size="12" fill="#111" stroke="#111" stroke-width="0.42" textLength="7.00" lengthAdjust="spacingAndGlyphs">h</text>
<text transform="translate(242.50,39.20) rotate(-90)" font-family='"Liberation Serif", serif' font-size="8" fill="#111" stroke="#111" stroke-width="0.42" textLength="9.00" lengthAdjust="spacingAndGlyphs">−2</text>
<text transform="translate(246.40,28.10) rotate(-90)" font-family='"Liberation Serif", serif' font-size="13" fill="#111" stroke="#111" stroke-width="0.42" textLength="3.40" lengthAdjust="spacingAndGlyphs">]</text>
<path d="M362.00 121.40L391.20 121.40" fill="none" stroke="#000" stroke-width="1.3" stroke-dasharray="0.9 2.5 6.5 2.5"/>
<path d="M362.00 137.50L391.90 137.50" fill="none" stroke="#0a0aff" stroke-width="1.3"/>
<path d="M362.00 152.70L396.80 152.70" fill="none" stroke="#ff0a0a" stroke-width="1.3" stroke-dasharray="5.8 5.2"/>
<text x="392.60" y="124.70" font-family='"Liberation Serif", serif' font-size="12.3" text-anchor="start" fill="#111" stroke="#111" stroke-width="0.42" textLength="20.20" lengthAdjust="spacingAndGlyphs">FOF</text>
<text x="420.10" y="124.70" font-family='"Liberation Serif", serif' font-size="12.3" text-anchor="start" fill="#111" stroke="#111" stroke-width="0.42" textLength="10.40" lengthAdjust="spacingAndGlyphs">(z</text>
<text x="431.70" y="124.70" font-family='"Liberation Serif", serif' font-size="12.3" text-anchor="start" fill="#111" stroke="#111" stroke-width="0.42" textLength="7.00" lengthAdjust="spacingAndGlyphs" font-weight="bold">=</text>
<text x="439.90" y="124.70" font-family='"Liberation Sans", sans-serif' font-size="11.5" text-anchor="start" fill="#111" stroke="#111" stroke-width="0.3" textLength="6.00" lengthAdjust="spacingAndGlyphs">0</text>
<text x="447.20" y="124.70" font-family='"Liberation Serif", serif' font-size="12.3" text-anchor="start" fill="#111" stroke="#111" stroke-width="0.42" textLength="3.60" lengthAdjust="spacingAndGlyphs">)</text>
<text x="392.60" y="140.50" font-family='"Liberation Serif", serif' font-size="12.3" text-anchor="start" fill="#111" stroke="#111" stroke-width="0.42" textLength="20.20" lengthAdjust="spacingAndGlyphs">FOF</text>
<text x="399.70" y="155.40" font-family='"Liberation Serif", serif' font-size="12.3" text-anchor="start" fill="#111" stroke="#111" stroke-width="0.42" textLength="6.20" lengthAdjust="spacingAndGlyphs">Δ</text>
<text x="407.00" y="155.40" font-family='"Liberation Serif", serif' font-size="12.3" text-anchor="start" fill="#111" stroke="#111" stroke-width="0.42" textLength="6.70" lengthAdjust="spacingAndGlyphs" font-weight="bold">=</text>
<text x="415.30" y="155.40" font-family='"Liberation Sans", sans-serif' font-size="11.3" text-anchor="start" fill="#111" stroke="#111" stroke-width="0.3" textLength="20.30" lengthAdjust="spacingAndGlyphs">500</text>
<g clip-path="url(#clc)">
<path d="M42.80 300.95L43.54 301.09L44.27 301.24L45.01 301.38L45.74 301.52L46.48 301.67L47.21 301.81L47.95 301.95L48.68 302.09L49.42 302.23L50.15 302.37L50.89 302.51L51.62 302.65L52.36 302.79L53.09 302.92L53.83 303.06L54.56 303.20L55.30 303.33L56.03 303.47L56.77 303.60L57.50 303.74L58.24 303.87L58.97 304.01L59.71 304.14L60.44 304.28L61.18 304.41L61.91 304.54L62.65 304.68L63.38 304.81L64.12 304.94L64.86 305.07L65.59 305.21L66.33 305.34L67.06 305.47L67.80 305.60L68.53 305.73L69.27 305.87L70.00 306.00L70.74 306.13L71.47 306.26L72.21 306.39L72.94 306.52L73.68 306.65L74.41 306.79L75.15 306.92L75.88 307.05L76.62 307.18L77.35 307.31L78.09 307.44L78.82 307.57L79.56 307.70L80.29 307.83L81.03 307.96L81.76 308.09L82.50 308.23L83.23 308.36L83.97 308.49L84.71 308.62L85.44 308.75L86.18 308.88L86.91 309.01L87.65 309.14L88.38 309.27L89.12 309.41L89.85 309.54L90.59 309.67L91.32 309.80L92.06 309.93L92.79 310.06L93.53 310.19L94.26 310.32L95.00 310.46L95.73 310.59L96.47 310.72L97.20 310.85L97.94 310.98L98.67 311.11L99.41 311.24L100.14 311.37L100.88 311.50L101.61 311.64L102.35 311.77L103.08 311.90L103.82 312.03L104.55 312.16L105.29 312.29L106.03 312.42L106.76 312.55L107.50 312.68L108.23 312.81L108.97 312.94L109.70 313.07L110.44 313.20L111.17 313.33L111.91 313.46L112.64 313.58L113.38 313.71L114.11 313.84L114.85 313.97L115.58 314.10L116.32 314.22L117.05 314.35L117.79 314.48L118.52 314.60L119.26 314.73L119.99 314.85L120.73 314.98L121.46 315.10L122.20 315.22L122.93 315.35L123.67 315.47L124.40 315.59L125.14 315.71L125.87 315.83L126.61 315.95L127.35 316.07L128.08 316.19L128.82 316.31L129.55 316.43L130.29 316.54L131.02 316.66L131.76 316.77L132.49 316.89L133.23 317.00L133.96 317.11L134.70 317.23L135.43 317.34L136.17 317.44L136.90 317.55L137.64 317.66L138.37 317.77L139.11 317.87L139.84 317.97L140.58 318.08L141.31 318.18L142.05 318.28L142.78 318.38L143.52 318.47L144.25 318.57L144.99 318.66L145.72 318.76L146.46 318.85L147.19 318.94L147.93 319.03L148.67 319.11L149.40 319.20L150.14 319.28L150.87 319.36L151.61 319.44L152.34 319.52L153.08 319.60L153.81 319.67L154.55 319.75L155.28 319.82L156.02 319.88L156.75 319.95L157.49 320.02L158.22 320.08L158.96 320.14L159.69 320.20L160.43 320.25L161.16 320.30L161.90 320.35L162.63 320.40L163.37 320.45L164.10 320.49L164.84 320.53L165.57 320.57L166.31 320.61L167.04 320.64L167.78 320.67L168.52 320.70L169.25 320.72L169.99 320.74L170.72 320.76L171.46 320.77L172.19 320.79L172.93 320.80L173.66 320.80L174.40 320.80L175.13 320.80L175.87 320.80L176.60 320.79L177.34 320.78L178.07 320.77L178.81 320.75L179.54 320.72L180.28 320.70L181.01 320.67L181.75 320.64L182.48 320.60L183.22 320.56L183.95 320.51L184.69 320.46L185.42 320.41L186.16 320.35L186.89 320.29L187.63 320.22L188.36 320.15L189.10 320.08" fill="none" stroke="#ff0a0a" stroke-width="1.55" stroke-dasharray="6.1 5.1" stroke-dashoffset="-1.2"/>
<path d="M42.80 306.20L43.82 305.66L44.85 305.14L45.87 304.64L46.89 304.17L47.91 303.71L48.94 303.27L49.96 302.86L50.98 302.46L52.01 302.08L53.03 301.71L54.05 301.37L55.07 301.04L56.10 300.72L57.12 300.42L58.14 300.13L59.17 299.86L60.19 299.60L61.21 299.36L62.23 299.12L63.26 298.90L64.28 298.68L65.30 298.48L66.32 298.28L67.35 298.10L68.37 297.92L69.39 297.75L70.42 297.58L71.44 297.42L72.46 297.27L73.48 297.13L74.51 297.00L75.53 296.88L76.55 296.77L77.58 296.68L78.60 296.61L79.62 296.55L80.64 296.51L81.67 296.50L82.69 296.50L83.71 296.53L84.74 296.58L85.76 296.65L86.78 296.73L87.80 296.84L88.83 296.97L89.85 297.11L90.87 297.28L91.90 297.46L92.92 297.66L93.94 297.87L94.96 298.10L95.99 298.35L97.01 298.61L98.03 298.88L99.06 299.17L100.08 299.47L101.10 299.79L102.12 300.11L103.15 300.46L104.17 300.82L105.19 301.20L106.21 301.60L107.24 302.02L108.26 302.47L109.28 302.95L110.31 303.45L111.33 303.98L112.35 304.54L113.37 305.13L114.40 305.74L115.42 306.36L116.44 306.99L117.47 307.64L118.49 308.29L119.51 308.94L120.53 309.58L121.56 310.23L122.58 310.87L123.60 311.50L124.63 312.15L125.65 312.79L126.67 313.45L127.69 314.11L128.72 314.79L129.74 315.49L130.76 316.20L131.79 316.93L132.81 317.67L133.83 318.41L134.85 319.14L135.88 319.87L136.90 320.58L137.92 321.27L138.94 321.93L139.97 322.56L140.99 323.15L142.01 323.71L143.04 324.23L144.06 324.72L145.08 325.18L146.10 325.61L147.13 326.01L148.15 326.40L149.17 326.76L150.20 327.10L151.22 327.41L152.24 327.71L153.26 327.97L154.29 328.21L155.31 328.41L156.33 328.57L157.36 328.69L158.38 328.77L159.40 328.80L160.42 328.78L161.45 328.71L162.47 328.59L163.49 328.43L164.52 328.22L165.54 327.98L166.56 327.70L167.58 327.39L168.61 327.04L169.63 326.66L170.65 326.25L171.68 325.81L172.70 325.34L173.72 324.84L174.74 324.30L175.77 323.74L176.79 323.15L177.81 322.53L178.83 321.88L179.86 321.21L180.88 320.53L181.90 319.83L182.93 319.11L183.95 318.39L184.97 317.66L185.99 316.93L187.02 316.20L188.04 315.48L189.06 314.76L190.09 314.05L191.11 313.36L192.13 312.69L193.15 312.03L194.18 311.40L195.20 310.80L202.60 308.60" fill="none" stroke="#0a0aff" stroke-width="1.55" stroke-linejoin="round"/>
<path d="M42.80 302.60L43.71 302.42L44.61 302.25L45.52 302.07L46.42 301.90L47.33 301.72L48.24 301.55L49.14 301.38L50.05 301.21L50.95 301.04L51.86 300.88L52.77 300.72L53.67 300.57L54.58 300.41L55.48 300.27L56.39 300.13L57.30 299.99L58.20 299.86L59.11 299.74L60.01 299.62L60.92 299.51L61.83 299.41L62.73 299.33L63.64 299.25L64.54 299.18L65.45 299.14L66.36 299.10L67.26 299.09L68.17 299.10L69.07 299.12L69.98 299.18L70.89 299.25L71.79 299.35L72.70 299.48L73.61 299.62L74.51 299.78L75.42 299.96L76.32 300.16L77.23 300.37L78.14 300.60L79.04 300.83L79.95 301.07L80.85 301.33L81.76 301.59L82.67 301.85L83.57 302.13L84.48 302.42L85.38 302.71L86.29 303.02L87.20 303.35L88.10 303.68L89.01 304.03L89.91 304.40L90.82 304.78L91.73 305.18L92.63 305.60L93.54 306.04L94.44 306.50L95.35 306.99L96.26 307.50L97.16 308.04L98.07 308.61L98.97 309.21L99.88 309.85L100.79 310.51L101.69 311.22L102.60 311.95L103.50 312.71L104.41 313.50L105.32 314.31L106.22 315.14L107.13 315.98L108.03 316.83L108.94 317.70L109.85 318.57L110.75 319.45L111.66 320.32L112.56 321.20L113.47 322.09L114.38 322.99L115.28 323.90L116.19 324.82L117.09 325.77L118.00 326.73L118.91 327.72L119.81 328.73L120.72 329.77L121.62 330.84L122.53 331.94L123.44 333.06L124.34 334.20L125.25 335.36L126.15 336.53L127.06 337.72L127.97 338.91L128.87 340.10L129.78 341.30L130.68 342.49L131.59 343.68L132.50 344.86L133.40 346.02L134.31 347.18L135.22 348.32L136.12 349.45L137.03 350.57L137.93 351.67L138.84 352.76L139.75 353.83L140.65 354.89L141.56 355.93L142.46 356.95L143.37 357.96L144.28 358.94L145.18 359.91L146.09 360.86L146.99 361.79L147.90 362.70L148.81 363.60L149.71 364.47L150.62 365.32L151.52 366.16L152.43 366.98L153.34 367.77L154.24 368.55L155.15 369.31L156.05 370.05L156.96 370.77L157.87 371.47L158.77 372.15L159.68 372.81L160.58 373.46L161.49 374.08L162.40 374.69L163.30 375.28L164.21 375.85L165.11 376.40L166.02 376.93L166.93 377.44L167.83 377.94L168.74 378.41L169.64 378.87L170.55 379.31L171.46 379.74L172.36 380.14L173.27 380.54L174.17 380.91L175.08 381.28L175.99 381.63L176.89 381.97L177.80 382.29L178.70 382.61L179.61 382.92L180.52 383.22L181.42 383.51L182.33 383.80L183.23 384.07L184.14 384.34L185.05 384.60L185.95 384.84L186.86 385.07L187.76 385.28L188.67 385.47L189.58 385.64L190.48 385.78L191.39 385.90L192.29 386.00L193.20 386.07L194.11 386.10L195.01 386.11L195.92 386.08L196.83 386.03L197.73 385.95L198.64 385.84L199.54 385.71L200.45 385.55L201.36 385.38L202.26 385.18L203.17 384.97L204.07 384.73L204.98 384.49L205.89 384.22L206.79 383.95L207.70 383.66L208.60 383.36L209.51 383.05L210.42 382.73L211.32 382.39L212.23 382.05L213.13 381.69L214.04 381.31L214.95 380.93L215.85 380.53L216.76 380.12L217.66 379.70L218.57 379.26L219.48 378.82L220.38 378.36L221.29 377.88L222.19 377.40L223.10 376.90" fill="none" stroke="#000" stroke-width="1.8" stroke-dasharray="6 2.4 1.4 2.4" stroke-dashoffset="-3.8"/>
</g>
<rect x="42.90" y="229.80" width="179.70" height="182.50" fill="none" stroke="#0a0a0a" stroke-width="1.2"/>
<path d="M50.60 229.80v3.6M50.60 412.30v-3.6M63.07 229.80v3.6M63.07 412.30v-3.6M72.75 229.80v3.6M72.75 412.30v-3.6M80.65 229.80v3.6M80.65 412.30v-3.6M87.34 229.80v3.6M87.34 412.30v-3.6M93.13 229.80v3.6M93.13 412.30v-3.6M98.23 229.80v3.6M98.23 412.30v-3.6M102.80 229.80v7.0M102.80 412.30v-7.0M132.85 229.80v3.6M132.85 412.30v-3.6M150.43 229.80v3.6M150.43 412.30v-3.6M162.91 229.80v3.6M162.91 412.30v-3.6M172.58 229.80v3.6M172.58 412.30v-3.6M180.49 229.80v3.6M180.49 412.30v-3.6M187.17 229.80v3.6M187.17 412.30v-3.6M192.96 229.80v3.6M192.96 412.30v-3.6M198.07 229.80v3.6M198.07 412.30v-3.6M202.63 229.80v7.0M202.63 412.30v-7.0" stroke="#1a1a1a" stroke-width="1.0" fill="none"/>
<path d="M42.90 256.02h7.0M222.60 256.02h-7.0M42.90 282.23h7.0M222.60 282.23h-7.0M42.90 308.45h7.0M222.60 308.45h-7.0M42.90 334.41h7.0M222.60 334.41h-7.0M42.90 360.38h7.0M222.60 360.38h-7.0M42.90 386.34h7.0M222.60 386.34h-7.0M42.90 242.91h3.6M222.60 242.91h-3.6M42.90 269.13h3.6M222.60 269.13h-3.6M42.90 295.34h3.6M222.60 295.34h-3.6M42.90 321.43h3.6M222.60 321.43h-3.6M42.90 347.39h3.6M222.60 347.39h-3.6M42.90 373.36h3.6M222.60 373.36h-3.6M42.90 399.32h3.6M222.60 399.32h-3.6" stroke="#1a1a1a" stroke-width="1.0" fill="none"/>
<text x="36.00" y="233.85" font-family='"Liberation Sans", sans-serif' font-size="11.3" text-anchor="end" fill="#111" stroke="#111" stroke-width="0.3" textLength="16.00" lengthAdjust="spacingAndGlyphs">2.6</text>
<text x="36.00" y="260.07" font-family='"Liberation Sans", sans-serif' font-size="11.3" text-anchor="end" fill="#111" stroke="#111" stroke-width="0.3" textLength="16.00" lengthAdjust="spacingAndGlyphs">2.4</text>
<text x="36.00" y="286.28" font-family='"Liberation Sans", sans-serif' font-size="11.3" text-anchor="end" fill="#111" stroke="#111" stroke-width="0.3" textLength="16.00" lengthAdjust="spacingAndGlyphs">2.2</text>
<text x="36.00" y="312.50" font-family='"Liberation Sans", sans-serif' font-size="11.3" text-anchor="end" fill="#111" stroke="#111" stroke-width="0.3" textLength="6.30" lengthAdjust="spacingAndGlyphs">2</text>
<text x="36.00" y="338.46" font-family='"Liberation Sans", sans-serif' font-size="11.3" text-anchor="end" fill="#111" stroke="#111" stroke-width="0.3" textLength="16.00" lengthAdjust="spacingAndGlyphs">1.8</text>
<text x="36.00" y="364.43" font-family='"Liberation Sans", sans-serif' font-size="11.3" text-anchor="end" fill="#111" stroke="#111" stroke-width="0.3" textLength="16.00" lengthAdjust="spacingAndGlyphs">1.6</text>
<text x="36.00" y="390.39" font-family='"Liberation Sans", sans-serif' font-size="11.3" text-anchor="end" fill="#111" stroke="#111" stroke-width="0.3" textLength="16.00" lengthAdjust="spacingAndGlyphs">1.4</text>
<text x="36.00" y="416.35" font-family='"Liberation Sans", sans-serif' font-size="11.3" text-anchor="end" fill="#111" stroke="#111" stroke-width="0.3" textLength="16.00" lengthAdjust="spacingAndGlyphs">1.2</text>
<text x="93.10" y="427.30" font-family='"Liberation Sans", sans-serif' font-size="11.3" text-anchor="start" fill="#111" stroke="#111" stroke-width="0.3" textLength="12.40" lengthAdjust="spacingAndGlyphs">10</text>
<text x="106.30" y="423.80" font-family='"Liberation Sans", sans-serif' font-size="7.4" text-anchor="start" fill="#111" stroke="#111" stroke-width="0.3" textLength="7.30" lengthAdjust="spacingAndGlyphs" font-weight="bold">14</text>
<text x="192.93" y="427.30" font-family='"Liberation Sans", sans-serif' font-size="11.3" text-anchor="start" fill="#111" stroke="#111" stroke-width="0.3" textLength="12.40" lengthAdjust="spacingAndGlyphs">10</text>
<text x="206.13" y="423.80" font-family='"Liberation Sans", sans-serif' font-size="7.4" text-anchor="start" fill="#111" stroke="#111" stroke-width="0.3" textLength="7.30" lengthAdjust="spacingAndGlyphs" font-weight="bold">15</text>
<text x="93.00" y="441.80" font-family='"Liberation Serif", serif' font-size="12" text-anchor="start" fill="#111" stroke="#111" stroke-width="0.42" textLength="26.70" lengthAdjust="spacingAndGlyphs">Mass</text>
<text x="126.30" y="442.10" font-family='"Liberation Serif", serif' font-size="13" text-anchor="start" fill="#111" stroke="#111" stroke-width="0.42" textLength="3.60" lengthAdjust="spacingAndGlyphs">[</text>
<text x="131.00" y="441.80" font-family='"Liberation Serif", serif' font-size="12" text-anchor="start" fill="#111" stroke="#111" stroke-width="0.42" textLength="8.40" lengthAdjust="spacingAndGlyphs">M</text>
<circle cx="142.40" cy="443.20" r="2.3" fill="none" stroke="#111" stroke-width="0.8"/><circle cx="142.40" cy="443.20" r="0.7" fill="#111"/>
<text x="151.10" y="441.80" font-family='"Liberation Serif", serif' font-size="12" text-anchor="start" fill="#111" stroke="#111" stroke-width="0.42" textLength="7.10" lengthAdjust="spacingAndGlyphs">h</text>
<text x="159.50" y="438.20" font-family='"Liberation Serif", serif' font-size="7.6" text-anchor="start" fill="#111" stroke="#111" stroke-width="0.42" textLength="8.70" lengthAdjust="spacingAndGlyphs">−1</text>
<text x="169.60" y="442.10" font-family='"Liberation Serif", serif' font-size="13" text-anchor="start" fill="#111" stroke="#111" stroke-width="0.42" textLength="3.60" lengthAdjust="spacingAndGlyphs">]</text>
<text x="158.70" y="258.30" font-family='"Liberation Serif", serif' font-size="15" text-anchor="start" fill="#111" stroke="#111" stroke-width="0.42" textLength="17.60" lengthAdjust="spacingAndGlyphs">(c)</text>
<text transform="translate(10.20,336.80) rotate(-90)" font-family='"Liberation Serif", serif' font-size="12" fill="#111" stroke="#111" stroke-width="0.42" textLength="30.60" lengthAdjust="spacingAndGlyphs">Slope</text>
<g clip-path="url(#cld)">
<path d="M282.40 318.82L283.09 318.75L283.77 318.68L284.46 318.61L285.15 318.56L285.83 318.51L286.52 318.47L287.21 318.43L287.89 318.40L288.58 318.38L289.26 318.37L289.95 318.36L290.64 318.36L291.32 318.36L292.01 318.37L292.70 318.39L293.38 318.41L294.07 318.44L294.76 318.47L295.44 318.51L296.13 318.56L296.82 318.61L297.50 318.66L298.19 318.72L298.87 318.79L299.56 318.86L300.25 318.94L300.93 319.01L301.62 319.10L302.31 319.19L302.99 319.28L303.68 319.38L304.37 319.48L305.05 319.58L305.74 319.69L306.43 319.80L307.11 319.92L307.80 320.04L308.48 320.16L309.17 320.29L309.86 320.42L310.54 320.55L311.23 320.69L311.92 320.83L312.60 320.97L313.29 321.12L313.98 321.26L314.66 321.41L315.35 321.57L316.04 321.72L316.72 321.88L317.41 322.04L318.09 322.20L318.78 322.36L319.47 322.53L320.15 322.70L320.84 322.86L321.53 323.03L322.21 323.21L322.90 323.38L323.59 323.56L324.27 323.73L324.96 323.91L325.65 324.09L326.33 324.27L327.02 324.45L327.70 324.63L328.39 324.81L329.08 325.00L329.76 325.18L330.45 325.37L331.14 325.55L331.82 325.74L332.51 325.92L333.20 326.11L333.88 326.29L334.57 326.48L335.26 326.67L335.94 326.85L336.63 327.04L337.31 327.23L338.00 327.41L338.69 327.60L339.37 327.78L340.06 327.97L340.75 328.15L341.43 328.34L342.12 328.52L342.81 328.70L343.49 328.88L344.18 329.07L344.87 329.25L345.55 329.43L346.24 329.60L346.92 329.78L347.61 329.96L348.30 330.13L348.98 330.31L349.67 330.48L350.36 330.65L351.04 330.82L351.73 330.99L352.42 331.15L353.10 331.32L353.79 331.48L354.48 331.64L355.16 331.80L355.85 331.96L356.53 332.12L357.22 332.27L357.91 332.43L358.59 332.58L359.28 332.72L359.97 332.87L360.65 333.02L361.34 333.16L362.03 333.30L362.71 333.44L363.40 333.57L364.09 333.71L364.77 333.84L365.46 333.97L366.14 334.09L366.83 334.22L367.52 334.34L368.20 334.46L368.89 334.57L369.58 334.69L370.26 334.80L370.95 334.90L371.64 335.01L372.32 335.11L373.01 335.21L373.70 335.31L374.38 335.40L375.07 335.50L375.75 335.59L376.44 335.67L377.13 335.75L377.81 335.83L378.50 335.91L379.19 335.98L379.87 336.05L380.56 336.12L381.25 336.19L381.93 336.25L382.62 336.31L383.31 336.36L383.99 336.41L384.68 336.46L385.36 336.51L386.05 336.55L386.74 336.59L387.42 336.63L388.11 336.66L388.80 336.69L389.48 336.71L390.17 336.74L390.86 336.76L391.54 336.77L392.23 336.79L392.92 336.80L393.60 336.80L394.29 336.80L394.97 336.80L395.66 336.80L396.35 336.79L397.03 336.78L397.72 336.77L398.41 336.75L399.09 336.73L399.78 336.71L400.47 336.68L401.15 336.65L401.84 336.61L402.53 336.57L403.21 336.53L403.90 336.49L404.58 336.44L405.27 336.39L405.96 336.33L406.64 336.28L407.33 336.21L408.02 336.15L408.70 336.08L409.39 336.01L410.08 335.93L410.76 335.86L411.45 335.77L412.14 335.69L412.82 335.60L413.51 335.51L414.19 335.42L414.88 335.32L415.57 335.22L416.25 335.11L416.94 335.00L417.63 334.89L418.31 334.78L419.00 334.66" fill="none" stroke="#ff0a0a" stroke-width="1.55" stroke-dasharray="6.1 5.1" stroke-dashoffset="1.6"/>
<path d="M282.40 305.70L283.33 306.01L284.26 306.33L285.19 306.66L286.12 306.99L287.04 307.33L287.97 307.67L288.90 308.02L289.83 308.38L290.76 308.73L291.69 309.09L292.62 309.45L293.55 309.81L294.48 310.17L295.40 310.53L296.33 310.89L297.26 311.25L298.19 311.60L299.12 311.95L300.05 312.29L300.98 312.63L301.91 312.96L302.83 313.29L303.76 313.61L304.69 313.91L305.62 314.21L306.55 314.50L307.48 314.78L308.41 315.05L309.34 315.30L310.27 315.54L311.19 315.78L312.12 316.01L313.05 316.23L313.98 316.46L314.91 316.68L315.84 316.91L316.77 317.15L317.70 317.40L318.63 317.65L319.55 317.93L320.48 318.21L321.41 318.52L322.34 318.84L323.27 319.17L324.20 319.52L325.13 319.88L326.06 320.26L326.99 320.65L327.91 321.05L328.84 321.46L329.77 321.88L330.70 322.31L331.63 322.75L332.56 323.20L333.49 323.65L334.42 324.11L335.34 324.58L336.27 325.05L337.20 325.52L338.13 325.99L339.06 326.47L339.99 326.94L340.92 327.41L341.85 327.87L342.78 328.34L343.70 328.80L344.63 329.25L345.56 329.71L346.49 330.16L347.42 330.61L348.35 331.07L349.28 331.53L350.21 332.00L351.14 332.47L352.06 332.94L352.99 333.43L353.92 333.93L354.85 334.43L355.78 334.95L356.71 335.47L357.64 336.01L358.57 336.55L359.50 337.10L360.42 337.66L361.35 338.23L362.28 338.81L363.21 339.40L364.14 339.99L365.07 340.59L366.00 341.18L366.93 341.77L367.86 342.34L368.78 342.89L369.71 343.41L370.64 343.89L371.57 344.33L372.50 344.74L373.43 345.11L374.36 345.46L375.29 345.79L376.21 346.09L377.14 346.37L378.07 346.63L379.00 346.88L379.93 347.10L380.86 347.28L381.79 347.43L382.72 347.54L383.65 347.59L384.57 347.59L385.50 347.53L386.43 347.42L387.36 347.24L388.29 347.02L389.22 346.75L390.15 346.43L391.08 346.07L392.01 345.66L392.93 345.21L393.86 344.69L394.79 344.11L395.72 343.44L396.65 342.68L397.58 341.82L398.51 340.85L399.44 339.76L400.37 338.55L401.29 337.24L402.22 335.86L403.15 334.41L404.08 332.91L405.01 331.38L405.94 329.84L406.87 328.29L407.80 326.76L408.72 325.23L409.65 323.73L410.58 322.25L411.51 320.81L412.44 319.40L413.37 318.04L414.30 316.74L415.23 315.50L416.16 314.32L417.08 313.22L418.01 312.20L418.94 311.27L419.87 310.44L420.80 309.70L426.90 306.10L434.70 300.50L441.50 314.20" fill="none" stroke="#0a0aff" stroke-width="1.55" stroke-linejoin="round"/>
<path d="M282.40 310.20L290.70 312.40L297.40 316.50L308.60 323.60L319.80 331.50L331.10 339.80L342.30 349.40L347.90 355.00L353.50 357.30L363.50 359.30L372.00 360.60L379.80 359.10L385.40 356.10L396.60 350.10L407.80 343.40L419.00 334.40L428.00 328.10L434.70 320.30L441.50 314.20L452.70 304.60L462.10 296.70" fill="none" stroke="#000" stroke-width="1.8" stroke-dasharray="6 2.4 1.4 2.4" stroke-linejoin="round"/>
</g>
<rect x="282.10" y="229.80" width="179.80" height="182.50" fill="none" stroke="#0a0a0a" stroke-width="1.2"/>
<path d="M289.80 229.80v3.6M289.80 412.30v-3.6M302.28 229.80v3.6M302.28 412.30v-3.6M311.96 229.80v3.6M311.96 412.30v-3.6M319.87 229.80v3.6M319.87 412.30v-3.6M326.56 229.80v3.6M326.56 412.30v-3.6M332.35 229.80v3.6M332.35 412.30v-3.6M337.46 229.80v3.6M337.46 412.30v-3.6M342.03 229.80v7.0M342.03 412.30v-7.0M372.10 229.80v3.6M372.10 412.30v-3.6M389.69 229.80v3.6M389.69 412.30v-3.6M402.17 229.80v3.6M402.17 412.30v-3.6M411.85 229.80v3.6M411.85 412.30v-3.6M419.76 229.80v3.6M419.76 412.30v-3.6M426.45 229.80v3.6M426.45 412.30v-3.6M432.24 229.80v3.6M432.24 412.30v-3.6M437.35 229.80v3.6M437.35 412.30v-3.6M441.92 229.80v7.0M441.92 412.30v-7.0" stroke="#1a1a1a" stroke-width="1.0" fill="none"/>
<path d="M282.10 275.43h7.0M461.90 275.43h-7.0M282.10 321.05h7.0M461.90 321.05h-7.0M282.10 366.68h7.0M461.90 366.68h-7.0M282.10 238.93h3.6M461.90 238.93h-3.6M282.10 248.05h3.6M461.90 248.05h-3.6M282.10 257.18h3.6M461.90 257.18h-3.6M282.10 266.30h3.6M461.90 266.30h-3.6M282.10 284.55h3.6M461.90 284.55h-3.6M282.10 293.68h3.6M461.90 293.68h-3.6M282.10 302.80h3.6M461.90 302.80h-3.6M282.10 311.93h3.6M461.90 311.93h-3.6M282.10 330.18h3.6M461.90 330.18h-3.6M282.10 339.30h3.6M461.90 339.30h-3.6M282.10 348.43h3.6M461.90 348.43h-3.6M282.10 357.55h3.6M461.90 357.55h-3.6M282.10 375.80h3.6M461.90 375.80h-3.6M282.10 384.93h3.6M461.90 384.93h-3.6M282.10 394.05h3.6M461.90 394.05h-3.6M282.10 403.18h3.6M461.90 403.18h-3.6" stroke="#1a1a1a" stroke-width="1.0" fill="none"/>
<text x="275.80" y="233.85" font-family='"Liberation Sans", sans-serif' font-size="11.3" text-anchor="end" fill="#111" stroke="#111" stroke-width="0.3" textLength="6.40" lengthAdjust="spacingAndGlyphs">2</text>
<text x="275.80" y="279.48" font-family='"Liberation Sans", sans-serif' font-size="11.3" text-anchor="end" fill="#111" stroke="#111" stroke-width="0.3" textLength="6.40" lengthAdjust="spacingAndGlyphs">1</text>
<text x="275.80" y="325.10" font-family='"Liberation Sans", sans-serif' font-size="11.3" text-anchor="end" fill="#111" stroke="#111" stroke-width="0.3" textLength="6.40" lengthAdjust="spacingAndGlyphs">0</text>
<text x="275.80" y="370.73" font-family='"Liberation Sans", sans-serif' font-size="11.3" text-anchor="end" fill="#111" stroke="#111" stroke-width="0.3" textLength="12.80" lengthAdjust="spacingAndGlyphs">−1</text>
<text x="275.80" y="416.35" font-family='"Liberation Sans", sans-serif' font-size="11.3" text-anchor="end" fill="#111" stroke="#111" stroke-width="0.3" textLength="12.80" lengthAdjust="spacingAndGlyphs">−2</text>
<text x="332.33" y="427.30" font-family='"Liberation Sans", sans-serif' font-size="11.3" text-anchor="start" fill="#111" stroke="#111" stroke-width="0.3" textLength="12.40" lengthAdjust="spacingAndGlyphs">10</text>
<text x="345.53" y="423.80" font-family='"Liberation Sans", sans-serif' font-size="7.4" text-anchor="start" fill="#111" stroke="#111" stroke-width="0.3" textLength="7.30" lengthAdjust="spacingAndGlyphs" font-weight="bold">14</text>
<text x="432.22" y="427.30" font-family='"Liberation Sans", sans-serif' font-size="11.3" text-anchor="start" fill="#111" stroke="#111" stroke-width="0.3" textLength="12.40" lengthAdjust="spacingAndGlyphs">10</text>
<text x="445.42" y="423.80" font-family='"Liberation Sans", sans-serif' font-size="7.4" text-anchor="start" fill="#111" stroke="#111" stroke-width="0.3" textLength="7.30" lengthAdjust="spacingAndGlyphs" font-weight="bold">15</text>
<text x="332.20" y="441.80" font-family='"Liberation Serif", serif' font-size="12" text-anchor="start" fill="#111" stroke="#111" stroke-width="0.42" textLength="26.70" lengthAdjust="spacingAndGlyphs">Mass</text>
<text x="365.50" y="442.10" font-family='"Liberation Serif", serif' font-size="13" text-anchor="start" fill="#111" stroke="#111" stroke-width="0.42" textLength="3.60" lengthAdjust="spacingAndGlyphs">[</text>
<text x="370.20" y="441.80" font-family='"Liberation Serif", serif' font-size="12" text-anchor="start" fill="#111" stroke="#111" stroke-width="0.42" textLength="8.40" lengthAdjust="spacingAndGlyphs">M</text>
<circle cx="381.60" cy="443.20" r="2.3" fill="none" stroke="#111" stroke-width="0.8"/><circle cx="381.60" cy="443.20" r="0.7" fill="#111"/>
<text x="390.30" y="441.80" font-family='"Liberation Serif", serif' font-size="12" text-anchor="start" fill="#111" stroke="#111" stroke-width="0.42" textLength="7.10" lengthAdjust="spacingAndGlyphs">h</text>
<text x="398.70" y="438.20" font-family='"Liberation Serif", serif' font-size="7.6" text-anchor="start" fill="#111" stroke="#111" stroke-width="0.42" textLength="8.70" lengthAdjust="spacingAndGlyphs">−1</text>
<text x="408.80" y="442.10" font-family='"Liberation Serif", serif' font-size="13" text-anchor="start" fill="#111" stroke="#111" stroke-width="0.42" textLength="3.60" lengthAdjust="spacingAndGlyphs">]</text>
<text x="310.00" y="258.30" font-family='"Liberation Serif", serif' font-size="15" text-anchor="start" fill="#111" stroke="#111" stroke-width="0.42" textLength="18.80" lengthAdjust="spacingAndGlyphs">(d)</text>
<text transform="translate(253.30,349.80) rotate(-90)" font-family='"Liberation Serif", serif' font-size="12" fill="#111" stroke="#111" stroke-width="0.42" textLength="57.80" lengthAdjust="spacingAndGlyphs">Curvature</text>
</svg>
</body></html>
